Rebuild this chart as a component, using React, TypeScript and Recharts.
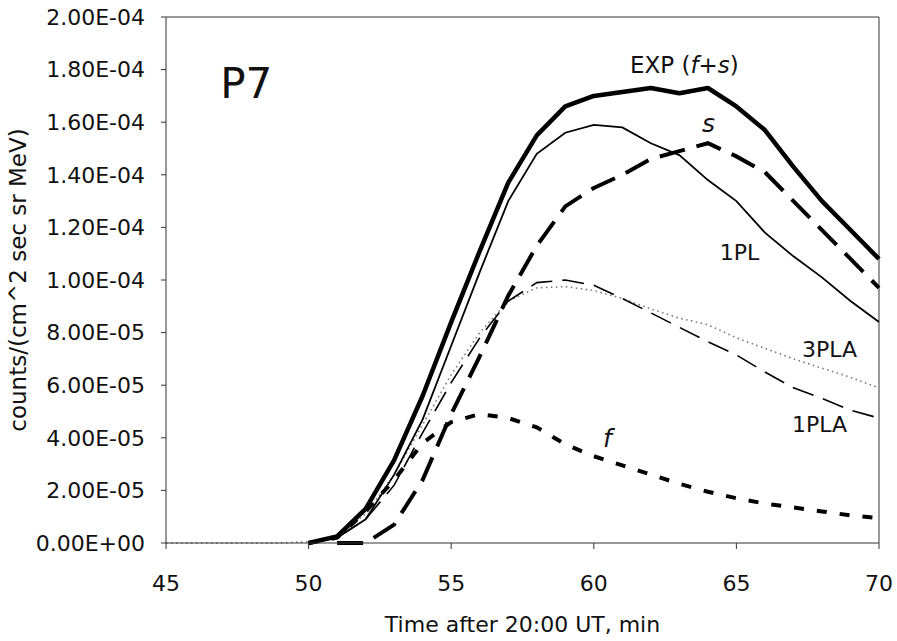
import React from 'react';
import { LineChart, Line, XAxis, YAxis, ReferenceLine, ReferenceDot } from 'recharts';

// time after 20:00 UT, minutes
const times = [45, 46, 47, 48, 49, 50, 51, 52, 53, 54, 55, 56, 57, 58, 59, 60, 61, 62, 63, 64, 65, 66, 67, 68, 69, 70];

// counts/(cm^2 sec sr MeV)
const expFS = [null, null, null, null, null, 0, 0.25e-5, 1.3e-5, 3.15e-5, 5.6e-5, 8.4e-5, 11.1e-5, 13.7e-5, 15.5e-5, 16.6e-5, 17.0e-5, 17.15e-5, 17.3e-5, 17.1e-5, 17.3e-5, 16.6e-5, 15.7e-5, 14.3e-5, 13.0e-5, 11.9e-5, 10.8e-5];
const onePL = [null, null, null, null, null, 0, 0.2e-5, 0.9e-5, 2.6e-5, 4.7e-5, 7.5e-5, 10.3e-5, 13.0e-5, 14.8e-5, 15.6e-5, 15.9e-5, 15.8e-5, 15.2e-5, 14.75e-5, 13.8e-5, 13.0e-5, 11.8e-5, 10.9e-5, 10.1e-5, 9.2e-5, 8.4e-5];
const slow = [null, null, null, null, null, null, 0, 0, 0.7e-5, 2.4e-5, 4.9e-5, 7.1e-5, 9.4e-5, 11.3e-5, 12.8e-5, 13.5e-5, 14.0e-5, 14.6e-5, 14.9e-5, 15.2e-5, 14.7e-5, 14.1e-5, 13.0e-5, 11.9e-5, 10.8e-5, 9.7e-5];
const fast = [null, null, null, null, null, 0, 0.2e-5, 1.2e-5, 2.4e-5, 3.8e-5, 4.6e-5, 4.9e-5, 4.75e-5, 4.4e-5, 3.75e-5, 3.3e-5, 2.95e-5, 2.6e-5, 2.25e-5, 1.95e-5, 1.7e-5, 1.5e-5, 1.35e-5, 1.2e-5, 1.05e-5, 0.95e-5];
const onePLA = [null, null, null, null, null, 0, 0.2e-5, 0.9e-5, 2.2e-5, 4.2e-5, 6.1e-5, 7.8e-5, 9.2e-5, 9.9e-5, 10.0e-5, 9.8e-5, 9.3e-5, 8.75e-5, 8.2e-5, 7.65e-5, 7.15e-5, 6.5e-5, 5.9e-5, 5.5e-5, 5.05e-5, 4.75e-5];
const threePLA = [0, 0, 0, 0, 0, 0.05e-5, 0.3e-5, 1.1e-5, 2.6e-5, 4.5e-5, 6.4e-5, 8.0e-5, 9.2e-5, 9.7e-5, 9.75e-5, 9.6e-5, 9.3e-5, 8.9e-5, 8.55e-5, 8.3e-5, 7.8e-5, 7.4e-5, 7.0e-5, 6.65e-5, 6.3e-5, 5.9e-5];

const xTicks = [45, 50, 55, 60, 65, 70];
const yTicks = [0, 2e-5, 4e-5, 6e-5, 8e-5, 1e-4, 1.2e-4, 1.4e-4, 1.6e-4, 1.8e-4, 2e-4];

const FONT = 'DejaVu Sans';

const sci = (v: number) => {
  if (v === 0) return '0.00E+00';
  const [m, e] = v.toExponential(2).split('e');
  const n = parseInt(e, 10);
  return `${m}E${n < 0 ? '-' : '+'}${String(Math.abs(n)).padStart(2, '0')}`;
};

type Part = { t: string; i?: boolean };

const Note = (props: any) => {
  const { viewBox, parts, size = 22 } = props;
  const list: Part[] = parts;
  return (
    <text x={viewBox.x} y={viewBox.y} fontFamily={FONT} fontSize={size} fill="#111">
      {list.map((p, k) => (
        <tspan key={k} fontStyle={p.i ? 'italic' : 'normal'}>{p.t}</tspan>
      ))}
    </text>
  );
};

export default function App() {
  const data = times.map((t, i) => ({
    t,
    exp: expFS[i],
    pl1: onePL[i],
    s: slow[i],
    f: fast[i],
    pla1: onePLA[i],
    pla3: threePLA[i],
  }));

  const dotProps = { r: 0, fill: 'none', stroke: 'none', ifOverflow: 'visible' as const };

  return (
    <div style={{ position: 'absolute', left: 0, top: 0, background: '#fff' }}>
      <LineChart width={897} height={641} data={data} margin={{ top: 17, right: 18, left: 0, bottom: 0 }}>
        <XAxis
          dataKey="t"
          type="number"
          domain={[45, 70]}
          ticks={xTicks}
          height={98}
          tickSize={6}
          tickMargin={26}
          stroke="#333"
          tick={{ fontSize: 22, fill: '#111', fontFamily: FONT }}
          label={{ value: 'Time after 20:00 UT, min', position: 'insideBottom', offset: 9, style: { fontSize: 22, fill: '#111', fontFamily: FONT } }}
        />
        <YAxis
          type="number"
          domain={[0, 2e-4]}
          ticks={yTicks}
          width={166}
          tickSize={5}
          tickMargin={16}
          stroke="#333"
          tickFormatter={sci}
          tick={{ fontSize: 22, fill: '#111', fontFamily: FONT }}
          label={{ value: 'counts/(cm^2 sec sr MeV)', angle: -90, position: 'insideLeft', offset: 18, style: { textAnchor: 'middle', fontSize: 23, fill: '#111', fontFamily: FONT } }}
        />
        <ReferenceLine y={2e-4} stroke="#333" strokeWidth={1} />
        <ReferenceLine x={70} stroke="#333" strokeWidth={1} />

        <Line dataKey="pla3" stroke="#777" strokeWidth={1.6} strokeDasharray="1.5 3.5" dot={false} isAnimationActive={false} />
        <Line dataKey="pla1" stroke="#000" strokeWidth={1.6} strokeDasharray="22 10" dot={false} isAnimationActive={false} />
        <Line dataKey="f" stroke="#000" strokeWidth={4} strokeDasharray="10 13" dot={false} isAnimationActive={false} />
        <Line dataKey="s" stroke="#000" strokeWidth={4} strokeDasharray="26 12" dot={false} isAnimationActive={false} />
        <Line dataKey="pl1" stroke="#000" strokeWidth={1.8} dot={false} isAnimationActive={false} />
        <Line dataKey="exp" stroke="#000" strokeWidth={4.5} strokeLinejoin="round" dot={false} isAnimationActive={false} />

        <ReferenceDot x={46.9} y={16.92e-5} {...dotProps} label={<Note parts={[{ t: 'P7' }]} size={42} />} />
        <ReferenceDot x={61.27} y={17.87e-5} {...dotProps} label={<Note parts={[{ t: 'EXP (' }, { t: 'f+s', i: true }, { t: ')' }]} size={23} />} />
        <ReferenceDot x={63.79} y={15.63e-5} {...dotProps} label={<Note parts={[{ t: 's', i: true }]} size={25} />} />
        <ReferenceDot x={64.42} y={10.76e-5} {...dotProps} label={<Note parts={[{ t: '1PL' }]} />} />
        <ReferenceDot x={67.3} y={7.07e-5} {...dotProps} label={<Note parts={[{ t: '3PLA' }]} />} />
        <ReferenceDot x={66.95} y={4.22e-5} {...dotProps} label={<Note parts={[{ t: '1PLA' }]} />} />
        <ReferenceDot x={60.32} y={3.65e-5} {...dotProps} label={<Note parts={[{ t: 'f', i: true }]} size={25} />} />
      </LineChart>
    </div>
  );
}
